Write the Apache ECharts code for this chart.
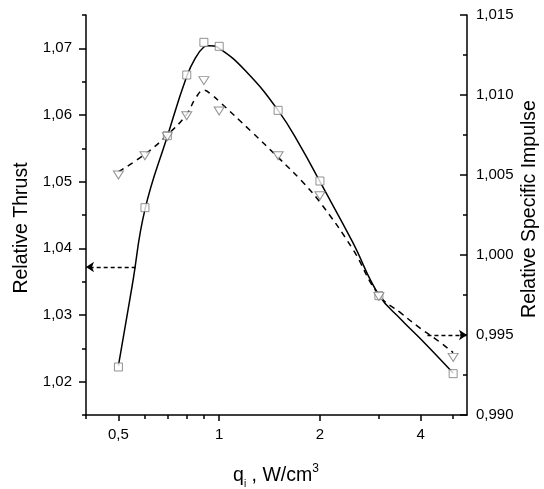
<!DOCTYPE html>
<html>
<head>
<meta charset="utf-8">
<script src="https://cdn.jsdelivr.net/npm/echarts@6/dist/echarts.min.js"></script>
<style>html,body{margin:0;padding:0;background:#fff;}#c{width:544px;height:489px;}</style>
</head>
<body>
<div id="c"></div>
<script>
// measured points
const qValues = [0.5, 0.6, 0.7, 0.8, 0.9, 1.0, 1.5, 2, 3, 5];
const thrustValues = [1.0222, 1.0461, 1.0569, 1.0660, 1.0709, 1.0703, 1.0607, 1.0501, 1.0329, 1.0212];
const impulseValues = [1.0050, 1.0062, 1.0074, 1.0087, 1.0109, 1.0090, 1.0062, 1.0037, 0.9974, 0.9936];

// fitted curves
const thrustFitQ = [0.5, 0.55, 0.6, 0.7, 0.8, 0.85, 0.9, 0.93, 1.0, 1.2, 1.5, 1.75, 2, 2.5, 3, 3.5, 4, 5];
const thrustFit = [1.0224, 1.0345, 1.0458, 1.0568, 1.0658, 1.0686, 1.0702, 1.0704, 1.0700, 1.0666, 1.0607, 1.0553, 1.0500, 1.0410, 1.0330, 1.0293, 1.0264, 1.0213];
const impulseFitQ = [0.5, 0.6, 0.7, 0.8, 0.85, 0.9, 0.95, 1.0, 1.25, 1.5, 1.75, 2, 2.5, 3, 3.5, 4, 4.5, 5];
const impulseFit = [1.0052, 1.0063, 1.0075, 1.0088, 1.0098, 1.0103, 1.0100, 1.0096, 1.0077, 1.0061, 1.0047, 1.0033, 1.0004, 0.9975, 0.99635, 0.9954, 0.99465, 0.9939];

// arrows (annotation)
const thrustArrow = { from: 0.563, to: 0.4, value: 1.0372 };
const impulseArrow = { from: 4.19, to: 5.5, value: 0.995 };

// ticks
const xMajorTicks = [0.5, 1, 2, 4];
const xMinorTicks = [0.4, 0.6, 0.7, 0.8, 0.9, 3, 5];
const leftMajorTicks = [1.02, 1.03, 1.04, 1.05, 1.06, 1.07];
const leftMinorTicks = [1.015, 1.025, 1.035, 1.045, 1.055, 1.065, 1.075];

const FONT = 'Liberation Sans, Arial, Helvetica, sans-serif';
const zip = (a, b) => a.map((v, i) => [v, b[i]]);
const axisLineStyle = { color: '#000', width: 1.5 };

const chart = echarts.init(document.getElementById('c'), null, { renderer: 'canvas' });
chart.setOption({
  animation: false,
  backgroundColor: '#fff',
  grid: { left: 86, right: 77, top: 15, bottom: 74, containLabel: false },
  xAxis: [
    {
      type: 'log', logBase: 10, min: 0.4, max: 5.5, position: 'bottom',
      axisLine: { show: true, lineStyle: axisLineStyle },
      axisTick: { show: true, length: 6, customValues: xMajorTicks, lineStyle: axisLineStyle },
      axisLabel: { customValues: xMajorTicks, margin: 12, fontSize: 15, color: '#000', fontFamily: FONT,
        formatter: v => String(v).replace('.', ',') },
      splitLine: { show: false }, minorTick: { show: false }
    },
    {
      type: 'log', logBase: 10, min: 0.4, max: 5.5, position: 'bottom',
      axisLine: { show: false },
      axisTick: { show: true, length: 4, customValues: xMinorTicks, lineStyle: axisLineStyle },
      axisLabel: { show: false },
      splitLine: { show: false }
    }
  ],
  yAxis: [
    {
      type: 'value', min: 1.015, max: 1.075, position: 'left', offset: 0,
      axisLine: { show: true, lineStyle: axisLineStyle },
      axisTick: { show: true, length: 7, customValues: leftMajorTicks, lineStyle: axisLineStyle },
      axisLabel: { customValues: leftMajorTicks, margin: 14, fontSize: 15, color: '#000', fontFamily: FONT,
        formatter: v => v.toFixed(2).replace('.', ',') },
      splitLine: { show: false }
    },
    {
      type: 'value', min: 1.015, max: 1.075, position: 'left', offset: 0,
      axisLine: { show: false },
      axisTick: { show: true, length: 4, customValues: leftMinorTicks, lineStyle: axisLineStyle },
      axisLabel: { show: false },
      splitLine: { show: false }
    },
    {
      type: 'value', min: 0.990, max: 1.015, interval: 0.005, position: 'right', offset: 0,
      axisLine: { show: true, lineStyle: axisLineStyle },
      axisTick: { show: true, inside: true, length: 7, lineStyle: axisLineStyle },
      minorTick: { show: true, splitNumber: 2, length: 4, lineStyle: axisLineStyle },
      axisLabel: { margin: 9, fontSize: 15, color: '#000', fontFamily: FONT,
        formatter: v => v.toFixed(3).replace('.', ',') },
      splitLine: { show: false }
    }
  ],
  series: [
    {
      name: 'Thrust fit', type: 'line', xAxisIndex: 0, yAxisIndex: 0,
      data: zip(thrustFitQ, thrustFit), smooth: 0.45, showSymbol: false, symbol: 'none',
      lineStyle: { color: '#000', width: 1.5 }, z: 2,
      markLine: {
        silent: true, symbol: ['none', 'arrow'], symbolSize: 8,
        label: { show: false },
        lineStyle: { color: '#000', width: 1.3, type: [4, 3] },
        data: [[{ coord: [thrustArrow.from, thrustArrow.value] }, { coord: [thrustArrow.to, thrustArrow.value] }]]
      }
    },
    {
      name: 'Impulse fit', type: 'line', xAxisIndex: 0, yAxisIndex: 2,
      data: zip(impulseFitQ, impulseFit), smooth: 0.45, showSymbol: false, symbol: 'none',
      lineStyle: { color: '#000', width: 1.5, type: [6, 5] }, z: 2,
      markLine: {
        silent: true, symbol: ['none', 'arrow'], symbolSize: 8,
        label: { show: false },
        lineStyle: { color: '#000', width: 1.3, type: [4, 3] },
        data: [[{ coord: [impulseArrow.from, impulseArrow.value] }, { coord: [impulseArrow.to, impulseArrow.value] }]]
      }
    },
    {
      name: 'Relative Thrust', type: 'scatter', xAxisIndex: 0, yAxisIndex: 0,
      data: zip(qValues, thrustValues), symbol: 'rect', symbolSize: 8,
      itemStyle: { color: '#fff', borderColor: '#777', borderWidth: 1 }, z: 3
    },
    {
      name: 'Relative Specific Impulse', type: 'scatter', xAxisIndex: 0, yAxisIndex: 2,
      data: zip(qValues, impulseValues), symbol: 'triangle', symbolRotate: 180, symbolSize: [10, 8],
      itemStyle: { color: '#fff', borderColor: '#777', borderWidth: 1 }, z: 3
    }
  ],
  graphic: [
    {
      type: 'text', x: 22, y: 228, rotation: Math.PI / 2,
      style: { text: 'Relative Thrust', fontSize: 19.5, fontFamily: FONT, fill: '#000',
        align: 'center', verticalAlign: 'middle', textAlign: 'center', textVerticalAlign: 'middle' }
    },
    {
      type: 'text', x: 530, y: 209, rotation: Math.PI / 2,
      style: { text: 'Relative Specific Impulse', fontSize: 19.5, fontFamily: FONT, fill: '#000',
        align: 'center', verticalAlign: 'middle', textAlign: 'center', textVerticalAlign: 'middle' }
    },
    {
      type: 'text', x: 276, y: 476,
      style: {
        text: '{a|q}{s|i}{a| , W/cm}{p|3}', fill: '#000',
        align: 'center', verticalAlign: 'middle', textAlign: 'center', textVerticalAlign: 'middle',
        rich: {
          a: { fontSize: 19.5, fontFamily: FONT, lineHeight: 26, fill: '#000', color: '#000' },
          s: { fontSize: 10, fontFamily: FONT, lineHeight: 16, verticalAlign: 'bottom', fill: '#000', color: '#000' },
          p: { fontSize: 12, fontFamily: FONT, lineHeight: 6, verticalAlign: 'top', fill: '#000', color: '#000' }
        }
      }
    }
  ]
});
</script>
</body>
</html>
